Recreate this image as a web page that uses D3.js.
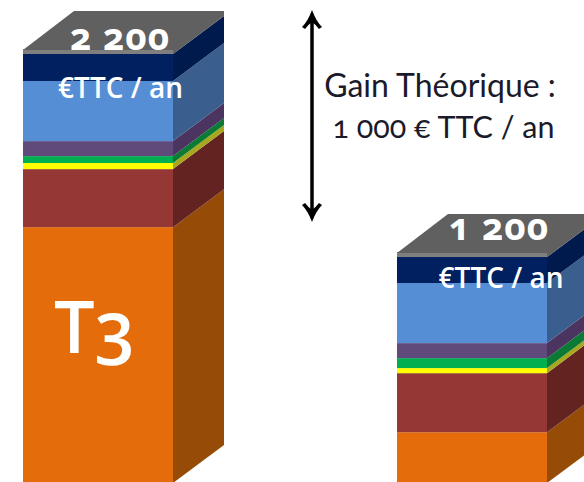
<!DOCTYPE html>
<html>
<head>
<meta charset="utf-8">
<script src="https://cdn.jsdelivr.net/npm/d3@7"></script>
<style>
  html, body { margin: 0; padding: 0; background: #fff; overflow: hidden; }
  text { font-family: "Open Sans", Lato, sans-serif; font-feature-settings: "onum"; }
  .gain { font-family: Lato, "Open Sans", sans-serif; }
</style>
</head>
<body>
<svg id="chart" width="584" height="482"></svg>
<script>
// yearly cost per tariff, stacked from the orange block upward
let barNames = ["T3", "Après"];
let totals = [2200, 1200];
let layerKeys = ["orange", "red", "yellow", "green", "purple", "blue", "navy"];
let orange = [1347, 337];
let red = [286, 291];
let yellow = [30, 25];
let green = [34, 49];
let purple = [74, 74];
let blue = [296, 296];
let navy = [133, 128];
let totalLabels = ["2 200", "1 200"];
let arrowEnds = [2417, 1372];

let frontColors = {orange: "#e46c0a", red: "#953735", yellow: "#ffff00", green: "#00b050", purple: "#604a7b", blue: "#558ed5", navy: "#002060"};
let sideColors = {orange: "#964c06", red: "#632321", yellow: "#a8a820", green: "#0a7a35", purple: "#4b3560", blue: "#3a5f8f", navy: "#001a4e"};

let svg = d3.select("#chart");

let dx = 51, dy = -38;
let barWidth = 150;

let rows = barNames.map((name, i) => ({
    name: name,
    orange: orange[i], red: red[i], yellow: yellow[i], green: green[i],
    purple: purple[i], blue: blue[i], navy: navy[i]
}));

let x = d3.scalePoint().domain(barNames).range([23, 397]);
// the blocks are cut off at the bottom, so the axis doesn't start at zero
let y = d3.scaleLinear().domain([87, 2200]).range([483, 54]);
let yBar = y.copy().clamp(true);

let stacked = d3.stack().keys(layerKeys)(rows);
let pts = a => a.map(p => p.join(",")).join(" ");

// label offsets from the top of each bar
let totalDx = [97, 102];
let totalDy = [-4, -17];
let unitDy = [44, 31];
let unitDx = [97.5, 104];

let bars = svg.selectAll(".bar").data(barNames).enter()
    .append("g").attr("class", "bar");

bars.each(function(name, i) {
    let g = d3.select(this);
    let x0 = x(name), x1 = x0 + barWidth;

    stacked.forEach(layer => {
        let top = yBar(layer[i][1]), bottom = yBar(layer[i][0]);
        g.append("rect")
            .attr("x", x0).attr("y", top)
            .attr("width", barWidth).attr("height", bottom - top)
            .attr("fill", frontColors[layer.key]);
        g.append("polygon")
            .attr("points", pts([[x1, top], [x1 + dx, top + dy], [x1 + dx, bottom + dy], [x1, bottom]]))
            .attr("fill", sideColors[layer.key]);
    });

    // lid
    let t = y(totals[i]);
    g.append("polygon")
        .attr("points", pts([[x0, t - 5], [x1, t - 5], [x1, t], [x0, t]]))
        .attr("fill", "#7f7f7f");
    g.append("polygon")
        .attr("points", pts([[x0, t - 4], [x0 + dx, t + dy - 5], [x1 + dx, t + dy - 5], [x1 + dx, t + dy], [x1, t], [x1, t - 4]]))
        .attr("fill", "#606060");

    g.append("text")
        .attr("x", x0 + totalDx[i]).attr("y", t + totalDy[i])
        .attr("text-anchor", "middle")
        .attr("font-size", 37).attr("font-weight", 700)
        .attr("letter-spacing", 1)
        .attr("fill", "#fff")
        .text(totalLabels[i]);

    g.append("text")
        .attr("x", x0 + unitDx[i]).attr("y", t + unitDy[i])
        .attr("text-anchor", "middle")
        .attr("font-size", 28).attr("font-weight", 600)
        .attr("fill", "#fff")
        .text("€TTC / an");
});

svg.append("text")
    .attr("x", 54).attr("y", 353)
    .attr("font-size", 72).attr("font-weight", 600).attr("fill", "#fff")
    .text("T3");

// double arrow for the gain between the two bars
let arrowTop = y(arrowEnds[0]), arrowBottom = y(arrowEnds[1]);
let arrowX = 312;
let head = "M0,0 Q4,11 10,17 L7,19 Q3,14 0,12 Q-3,14 -7,19 L-10,17 Q-4,11 0,0Z";
svg.append("line")
    .attr("x1", arrowX).attr("x2", arrowX)
    .attr("y1", arrowTop + 4).attr("y2", arrowBottom - 4)
    .attr("stroke", "#000").attr("stroke-width", 3.5);
svg.append("path").attr("d", head).attr("transform", `translate(${arrowX},${arrowTop})`);
svg.append("path").attr("d", head).attr("transform", `translate(${arrowX},${arrowBottom}) scale(1,-1)`);

svg.append("text").attr("class", "gain")
    .attr("x", 440).attr("y", 97)
    .attr("text-anchor", "middle").attr("font-size", 32).attr("fill", "#1a1a2a")
    .text("Gain Théorique :");
svg.append("text").attr("class", "gain")
    .attr("x", 443.5).attr("y", 138)
    .attr("text-anchor", "middle").attr("font-size", 30.5).attr("fill", "#1a1a2a")
    .text("1 000 € TTC / an");
</script>
</body>
</html>
